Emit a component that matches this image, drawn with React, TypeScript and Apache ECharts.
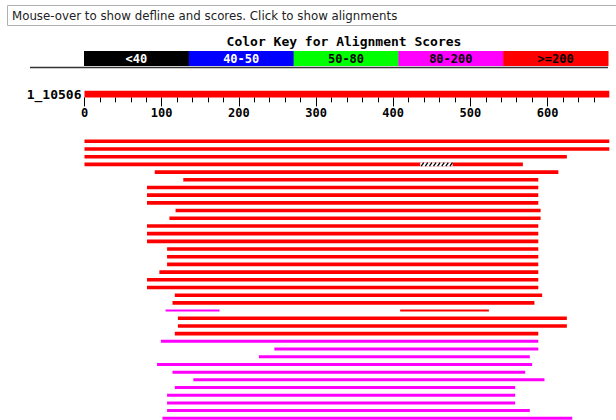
import React, { useEffect, useRef } from "react";
import * as echarts from "echarts";

// ---- data ----
const queryName = "1_10506";
const queryLength = 680;
const tickLabels = [0, 100, 200, 300, 400, 500, 600];
const minorTicks = [20, 40, 60, 80, 120, 140, 160, 180, 220, 240, 260, 280, 320, 340, 360, 380, 420, 440, 460, 480, 520, 540, 560, 580, 620, 640, 660];
const keyTitle = "Color Key for Alignment Scores";
const keyLabels = ["<40", "40-50", "50-80", "80-200", ">=200"];
const keyColors = ["#000000", "#0000FF", "#00FF00", "#FF00FF", "#FF0000"];
const keyTextColors = ["#FFFFFF", "#FFFFFF", "#000000", "#000000", "#000000"];
const headerText = "Mouse-over to show defline and scores. Click to show alignments";

// score class index: 3 = 80-200 (magenta), 4 = >=200 (red)
// [row, start, end, scoreClass, thin(0/1)]
const hits: number[][] = [
  [0, 0, 680, 4, 0],
  [1, 0, 680, 4, 0],
  [2, 0, 625, 4, 0],
  [3, 0, 568, 4, 0],
  [4, 91, 614, 4, 0],
  [5, 128, 588, 4, 0],
  [6, 81, 588, 4, 0],
  [7, 81, 588, 4, 0],
  [8, 81, 588, 4, 0],
  [9, 118, 591, 4, 0],
  [10, 110, 591, 4, 0],
  [11, 81, 588, 4, 0],
  [12, 81, 588, 4, 0],
  [13, 81, 588, 4, 0],
  [14, 107, 588, 4, 0],
  [15, 107, 588, 4, 0],
  [16, 107, 588, 4, 0],
  [17, 97, 588, 4, 0],
  [18, 81, 588, 4, 0],
  [19, 81, 588, 4, 0],
  [20, 117, 593, 4, 0],
  [21, 114, 583, 4, 0],
  [22, 105, 175, 3, 1],
  [22, 409, 524, 4, 1],
  [23, 121, 625, 4, 0],
  [24, 121, 625, 4, 0],
  [25, 117, 588, 4, 0],
  [26, 99, 588, 3, 0],
  [27, 246, 588, 3, 0],
  [28, 226, 577, 3, 0],
  [29, 94, 580, 3, 0],
  [30, 114, 571, 3, 0],
  [31, 141, 596, 3, 0],
  [32, 117, 558, 3, 0],
  [33, 107, 558, 3, 0],
  [34, 107, 558, 3, 0],
  [35, 107, 577, 3, 0],
  [36, 101, 632, 3, 0],
];
// gaps in alignment (hatched): [row, start, end]
const gaps: number[][] = [[3, 435, 477]];
const rowCount = 37;

const MONO = "'DejaVu Sans Mono', 'Liberation Mono', monospace";

export default function App() {
  const ref = useRef<HTMLDivElement>(null);
  useEffect(() => {
    if (!ref.current) return;
    const chart = echarts.init(ref.current, undefined, { renderer: "svg" });

    const keyLeft = 84;
    const keyRight = 608;
    const segW = (keyRight - keyLeft) / keyLabels.length;
    const keyGraphics: any[] = [];
    keyLabels.forEach((lab, i) => {
      keyGraphics.push({
        type: "rect",
        shape: { x: keyLeft + i * segW, y: 51, width: segW + 0.5, height: 15 },
        style: { fill: keyColors[i] },
        silent: true,
      });
      keyGraphics.push({
        type: "text",
        x: keyLeft + i * segW + segW / 2,
        y: 58.5,
        style: {
          text: lab,
          fill: keyTextColors[i],
          font: `bold 12px ${MONO}`,
          textAlign: "center",
          textVerticalAlign: "middle",
        },
        silent: true,
      });
    });

    const option: any = {
      animation: false,
      backgroundColor: "#ffffff",
      graphic: [
        {
          type: "rect",
          shape: { x: 7.5, y: 5.5, width: 640, height: 20 },
          style: { fill: "#ffffff", stroke: "#b0b0b0", lineWidth: 1 },
          silent: true,
        },
        {
          type: "text",
          x: 12,
          y: 16,
          style: {
            text: headerText,
            fill: "#222222",
            font: "11.8px 'DejaVu Sans', sans-serif",
            textVerticalAlign: "middle",
          },
          silent: true,
        },
        {
          type: "text",
          x: 344,
          y: 41,
          style: {
            text: keyTitle,
            fill: "#000000",
            font: `bold 13px ${MONO}`,
            textAlign: "center",
            textVerticalAlign: "middle",
          },
          silent: true,
        },
        ...keyGraphics,
        {
          type: "line",
          shape: { x1: 30, y1: 67.5, x2: 608, y2: 67.5 },
          style: { stroke: "#333333", lineWidth: 1.5 },
          silent: true,
        },
      ],
      grid: [
        { left: 84.5, right: 6.7, top: 90.7, height: 6.7 },
        { left: 84.5, right: 6.7, top: 141.3, height: 277 },
      ],
      xAxis: [
        {
          gridIndex: 0,
          type: "value",
          min: 0,
          max: queryLength,
          position: "bottom",
          axisLine: { show: false },
          splitLine: { show: false },
          axisTick: {
            show: true,
            customValues: tickLabels,
            length: 9,
            lineStyle: { color: "#000", width: 1 },
          },
          axisLabel: {
            show: true,
            customValues: tickLabels,
            margin: 10,
            color: "#000",
            fontFamily: MONO,
            fontWeight: "bold",
            fontSize: 12,
          },
        },
        {
          gridIndex: 0,
          type: "value",
          min: 0,
          max: queryLength,
          position: "bottom",
          axisLine: { show: false },
          splitLine: { show: false },
          axisTick: {
            show: true,
            customValues: minorTicks,
            length: 5,
            lineStyle: { color: "#000", width: 1 },
          },
          axisLabel: { show: false },
        },
        {
          gridIndex: 1,
          type: "value",
          min: 0,
          max: queryLength,
          show: false,
        },
      ],
      yAxis: [
        {
          gridIndex: 0,
          type: "category",
          data: [queryName],
          axisLine: { show: false },
          axisTick: { show: false },
          axisLabel: {
            margin: 3,
            color: "#000",
            fontFamily: MONO,
            fontWeight: "bold",
            fontSize: 13,
          },
        },
        {
          gridIndex: 1,
          type: "value",
          min: 0,
          max: rowCount - 1,
          inverse: true,
          show: false,
        },
      ],
      series: [
        {
          type: "bar",
          xAxisIndex: 0,
          yAxisIndex: 0,
          data: [queryLength],
          barWidth: "100%",
          itemStyle: { color: "#FF0000" },
          silent: true,
        },
        {
          type: "custom",
          xAxisIndex: 2,
          yAxisIndex: 1,
          data: hits,
          clip: false,
          silent: true,
          renderItem: (params: any, api: any) => {
            const row = api.value(0);
            const s = api.coord([api.value(1), row]);
            const e = api.coord([api.value(2), row]);
            const cls = api.value(3);
            const thin = api.value(4) === 1;
            const h = thin ? 2 : cls === 4 ? 3.6 : 3;
            return {
              type: "rect",
              shape: { x: s[0], y: s[1] - h / 2, width: e[0] - s[0], height: h },
              style: { fill: keyColors[cls] },
            };
          },
          encode: { x: [1, 2], y: 0 },
        },
        {
          type: "custom",
          xAxisIndex: 2,
          yAxisIndex: 1,
          data: gaps,
          clip: false,
          silent: true,
          renderItem: (params: any, api: any) => {
            const row = api.value(0);
            const s = api.coord([api.value(1), row]);
            const e = api.coord([api.value(2), row]);
            const h = 3.6;
            const y0 = s[1] - h / 2;
            const children: any[] = [
              {
                type: "rect",
                shape: { x: s[0], y: y0, width: e[0] - s[0], height: h },
                style: { fill: "#ffffff" },
              },
            ];
            for (let x = s[0] + 1; x < e[0] - 2; x += 4.1) {
              children.push({
                type: "line",
                shape: { x1: x, y1: y0 + h, x2: x + 2.5, y2: y0 },
                style: { stroke: "#000000", lineWidth: 1.3 },
              });
            }
            return { type: "group", children };
          },
          encode: { x: [1, 2], y: 0 },
        },
      ],
    };
    chart.setOption(option);
    return () => chart.dispose();
  }, []);
  return (
    <div
      ref={ref}
      style={{ position: "absolute", left: 0, top: 0, width: 616, height: 420 }}
    />
  );
}
